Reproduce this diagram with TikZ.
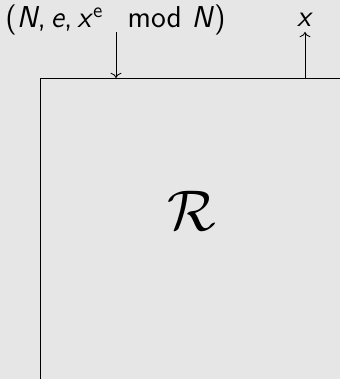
\documentclass[tikz,border=0pt]{standalone}
\usepackage{amsmath,amssymb}
\usepackage{tikz}
\usetikzlibrary{arrows.meta,positioning,calc}
\definecolor{bggray}{RGB}{230,230,230}
\newcommand{\sv}[1]{\textit{#1}}

\begin{document}
\begin{tikzpicture}[
    x=0.01675cm, y=-0.01675cm,
    frame/.style={draw, line width=0.4pt},
    io/.style={->, line width=0.4pt},
    lbl/.style={font=\sffamily\Large, anchor=base, inner sep=0pt},
    big/.style={font=\Huge, scale=1.1}
]
% --- Page ---
\fill[bggray] (0,0) rectangle (340,379);
\useasboundingbox (0,0) rectangle (340,379);

% --- Box R ---
\coordinate (boxNW) at (40,78);
\coordinate (boxSW) at (40,379);
\coordinate (boxNE) at (340,78);
\draw[frame] (boxSW) -- (boxNW) -- (boxNE);
\node[big] (R) at (192,211) {$\mathcal{R}$};

% --- Input (down) ---
\coordinate (inTop) at (116,32);
\coordinate (inBot) at (116,78);
\node[lbl] (inLbl) at (115.5,28) {(\sv{N},\,\sv{e},\,\sv{x}\textsuperscript{e}\hspace{0.8em}mod \sv{N})};
\draw[io] (inTop) -- (inBot);

% --- Output (up) ---
\coordinate (outBot) at (305,78);
\coordinate (outTop) at (305,32);
\node[lbl] (outLbl) at (305,27) {\sv{x}};
\draw[io] (outBot) -- (outTop);

\end{tikzpicture}
\end{document}
